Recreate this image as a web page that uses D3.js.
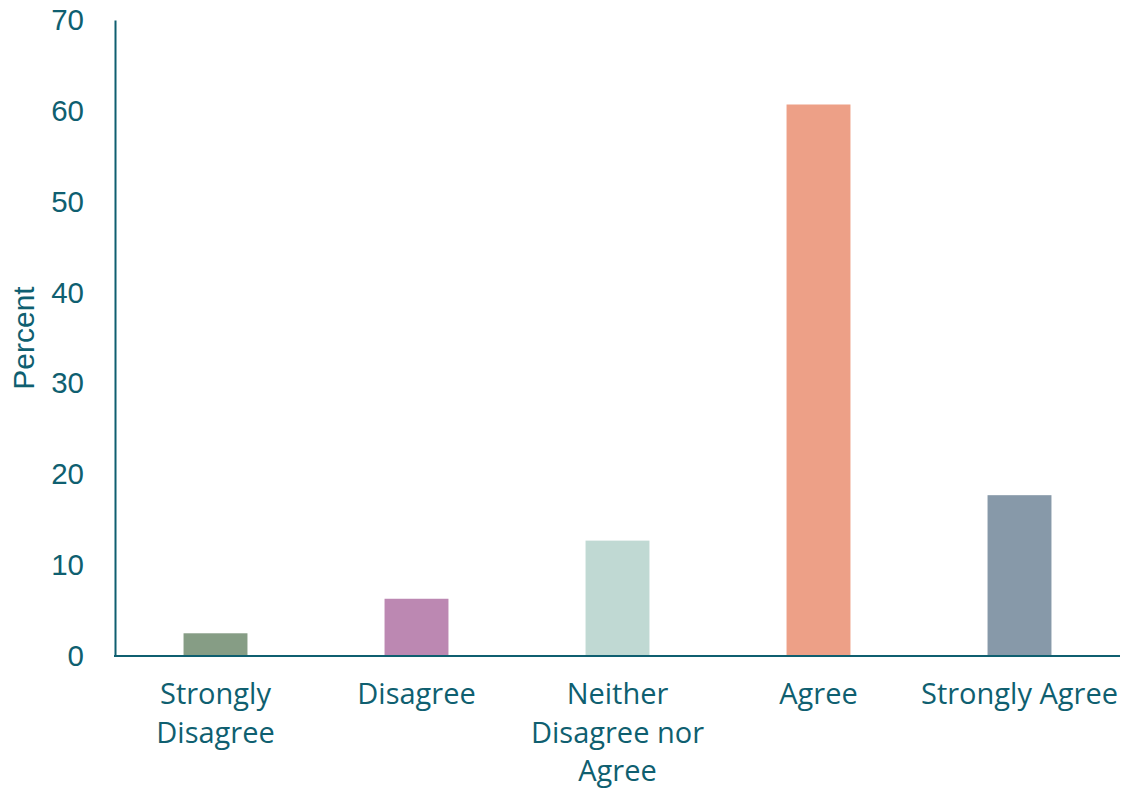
<!DOCTYPE html>
<html>
<head>
<meta charset="utf-8">
<script src="https://cdn.jsdelivr.net/npm/d3@7/dist/d3.min.js"></script>
<style>
  html, body { margin: 0; padding: 0; background: #fff; }
  svg { display: block; }
</style>
</head>
<body>
<svg id="chart" width="1125" height="791"></svg>
<script>
// Survey responses (percent of respondents)
const categories = ["Strongly Disagree", "Disagree", "Neither Disagree nor Agree", "Agree", "Strongly Agree"];
const categoryLines = [["Strongly", "Disagree"], ["Disagree"], ["Neither", "Disagree nor", "Agree"], ["Agree"], ["Strongly Agree"]];
const percentValues = [2.5, 6.3, 12.7, 60.7, 17.7];
const barColors = ["#869d85", "#bc88b2", "#c0d9d3", "#eda087", "#8799a9"];
const yTicks = [0, 10, 20, 30, 40, 50, 60, 70];
const yLabel = "Percent";

const ink = "#0f5f70";
const svg = d3.select("#chart");
const margin = { left: 115, right: 5, top: 20, bottom: 135 };
const W = 1125, H = 791;

const x = d3.scaleBand()
  .domain(categories)
  .range([margin.left, W - margin.right])
  .paddingInner(0.682)
  .paddingOuter(0.341);

const y = d3.scaleLinear()
  .domain([0, 70])
  .range([H - margin.bottom, margin.top]);

// Bars
svg.append("g")
  .selectAll("rect")
  .data(categories)
  .join("rect")
  .attr("x", d => x(d))
  .attr("width", x.bandwidth())
  .attr("y", (d, i) => y(percentValues[i]))
  .attr("height", (d, i) => y(0) - y(percentValues[i]))
  .attr("fill", (d, i) => barColors[i]);

// Y axis
const yAxis = svg.append("g")
  .attr("transform", `translate(${margin.left},0)`)
  .call(d3.axisLeft(y).tickValues(yTicks).tickSize(0).tickPadding(31));
yAxis.select(".domain").attr("stroke", ink).attr("stroke-width", 2);
yAxis.selectAll("text")
  .attr("fill", ink)
  .attr("font-family", "'Liberation Sans', Arial, sans-serif")
  .attr("font-size", 29.5);

// X axis
const xAxis = svg.append("g")
  .attr("transform", `translate(0,${y(0)})`)
  .call(d3.axisBottom(x).tickSize(0).tickFormat(""));
xAxis.select(".domain").attr("stroke", ink).attr("stroke-width", 2)
  .attr("d", `M${margin.left - 1},0H${W - margin.right}`);

// Category labels, wrapped into lines
const labels = svg.append("g")
  .attr("fill", ink)
  .attr("font-family", "'Open Sans', sans-serif")
  .attr("font-size", 29)
  .attr("text-anchor", "middle");
categories.forEach((c, i) => {
  const t = labels.append("text")
    .attr("x", x(c) + x.bandwidth() / 2)
    .attr("y", y(0) + 48);
  categoryLines[i].forEach((line, j) => {
    t.append("tspan")
      .attr("x", x(c) + x.bandwidth() / 2)
      .attr("dy", j === 0 ? 0 : 38.5)
      .text(line);
  });
});

// Y axis title
svg.append("text")
  .attr("transform", `translate(34,${(y(0) + y(70)) / 2}) rotate(-90)`)
  .attr("text-anchor", "middle")
  .attr("fill", ink)
  .attr("font-family", "'Liberation Sans', Arial, sans-serif")
  .attr("font-size", 30)
  .text(yLabel);
</script>
</body>
</html>
